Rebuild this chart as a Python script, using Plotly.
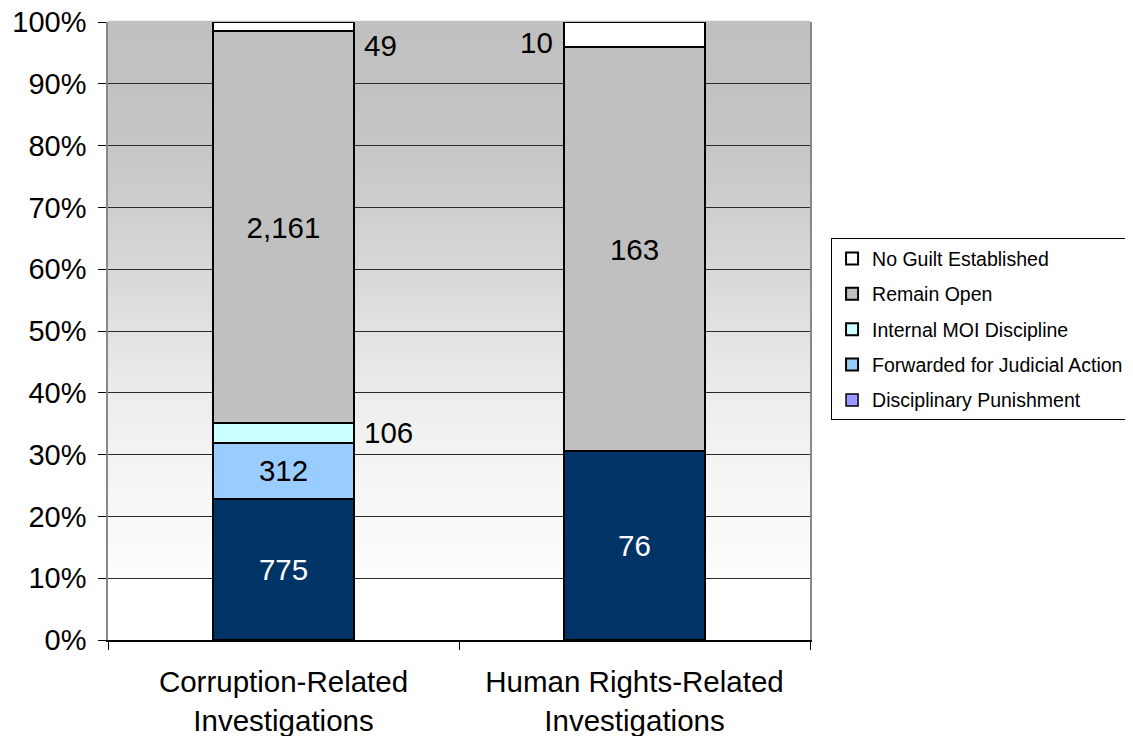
import plotly.graph_objects as go

categories = ["Corruption-Related<br>Investigations", "Human Rights-Related<br>Investigations"]

# counts per outcome, bottom of the stack first
disciplinary_punishment = [775, 76]
forwarded_judicial = [312, 0]
internal_moi = [106, 0]
remain_open = [2161, 163]
no_guilt = [49, 10]

series = [
    ("Disciplinary Punishment", disciplinary_punishment),
    ("Forwarded for Judicial Action", forwarded_judicial),
    ("Internal MOI Discipline", internal_moi),
    ("Remain Open", remain_open),
    ("No Guilt Established", no_guilt),
]

FONT = "Liberation Sans, Arial, sans-serif"

bar_colors = {
    "Disciplinary Punishment": "#003366",
    "Forwarded for Judicial Action": "#99ccff",
    "Internal MOI Discipline": "#ccffff",
    "Remain Open": "#c0c0c0",
    "No Guilt Established": "#ffffff",
}
legend_colors = dict(bar_colors)
legend_colors["Disciplinary Punishment"] = "#9999ff"  # legend swatch differs from bar fill

text_colors = {"Disciplinary Punishment": "white"}

# labels that sit beside the bar instead of inside it: (series, category index) -> side, yshift
outside = {
    ("No Guilt Established", 0): ("right", -19),
    ("Internal MOI Discipline", 0): ("right", 0),
    ("No Guilt Established", 1): ("left", -8),
}

totals = [sum(s[1][i] for s in series) for i in range(len(categories))]
n = len(series)

fig = go.Figure()

# legend-only swatch for Disciplinary Punishment
fig.add_trace(go.Bar(
    x=categories, y=[None, None], name="Disciplinary Punishment",
    legendgroup="Disciplinary Punishment", legendrank=n,
    marker=dict(color=legend_colors["Disciplinary Punishment"], line=dict(color="black", width=1.5)),
    hoverinfo="skip",
))

annotations = []
base = [0.0] * len(categories)
for rank, (name, counts) in enumerate(series):
    pct = [c / t * 100 for c, t in zip(counts, totals)]
    texts = []
    for i, c in enumerate(counts):
        if c == 0 or (name, i) in outside:
            texts.append("")
        else:
            texts.append(f"{c:,}")
        if (name, i) in outside:
            side, ys = outside[(name, i)]
            annotations.append(dict(
                x=categories[i], y=base[i] + pct[i] / 2, xref="x", yref="y",
                text=f"{c:,}", showarrow=False,
                xanchor="left" if side == "right" else "right",
                xshift=78 if side == "right" else -80, yshift=ys,
                font=dict(family=FONT, size=29.5, color="black"),
            ))
    fig.add_trace(go.Bar(
        x=categories, y=pct, name=name, legendgroup=name,
        legendrank=n - rank,
        showlegend=(name != "Disciplinary Punishment"),
        text=texts, textposition="inside", insidetextanchor="middle",
        textfont=dict(family=FONT, size=29.5, color=text_colors.get(name, "black")),
        marker=dict(color=bar_colors[name], line=dict(color="black", width=2)),
        customdata=counts,
        hovertemplate="%{x}<br>" + name + ": %{customdata:,}<extra></extra>",
    ))
    base = [b + p for b, p in zip(base, pct)]

# gradient plot background: gray at top fading to white near the bottom
stops = [(0, 255), (10, 255), (10.01, 253), (20, 248), (30, 243), (40, 236),
         (50, 226), (60, 216), (70, 206), (80, 198), (90, 194), (100, 192)]


def gray_at(p):
    for (p0, g0), (p1, g1) in zip(stops, stops[1:]):
        if p0 <= p <= p1:
            return g0 + (g1 - g0) * (p - p0) / (p1 - p0)
    return 255


shapes = []
step = 1
for k in range(0, 100, step):
    g = round(gray_at(k + step / 2))
    shapes.append(dict(
        type="rect", xref="x domain", yref="y domain", layer="below",
        x0=0, x1=1, y0=k / 100, y1=(k + step) / 100 + 0.002,
        fillcolor=f"rgb({g},{g},{g})", line=dict(width=0),
    ))

# the page body offsets the figure by 8px, so margins are trimmed to compensate
fig.update_layout(
    barmode="stack",
    bargap=0.6,
    width=1133, height=736,
    margin=dict(l=100, r=329, t=14, b=104),
    paper_bgcolor="white",
    plot_bgcolor="white",
    font=dict(family=FONT, size=28, color="black"),
    shapes=shapes,
    annotations=annotations,
    showlegend=True,
    legend=dict(
        x=1.03, y=0.65, xanchor="left", yanchor="top",
        traceorder="grouped", tracegroupgap=7,
        font=dict(family=FONT, size=19.5, color="black"),
        bgcolor="white", bordercolor="black", borderwidth=1,
    ),
    xaxis=dict(
        type="category", tickson="boundaries", ticks="outside", ticklen=8,
        tickcolor="black", showline=True, linecolor="black", linewidth=1.5,
        showgrid=False, automargin=False, ticklabelstandoff=15,
        tickfont=dict(family=FONT, size=29.5, color="black"),
    ),
    yaxis=dict(
        range=[0, 100], dtick=10, ticksuffix="%", ticks="outside", ticklen=8,
        tickcolor="black", showline=True, linecolor="#888888", linewidth=1.5,
        mirror=True, showgrid=True, gridcolor="#2a2a2a", gridwidth=1,
        zeroline=False, automargin=False, ticklabelstandoff=6,
        ticklabeloverflow="allow",
        tickfont=dict(family=FONT, size=29, color="black"),
    ),
)

fig.write_html("out.html")
